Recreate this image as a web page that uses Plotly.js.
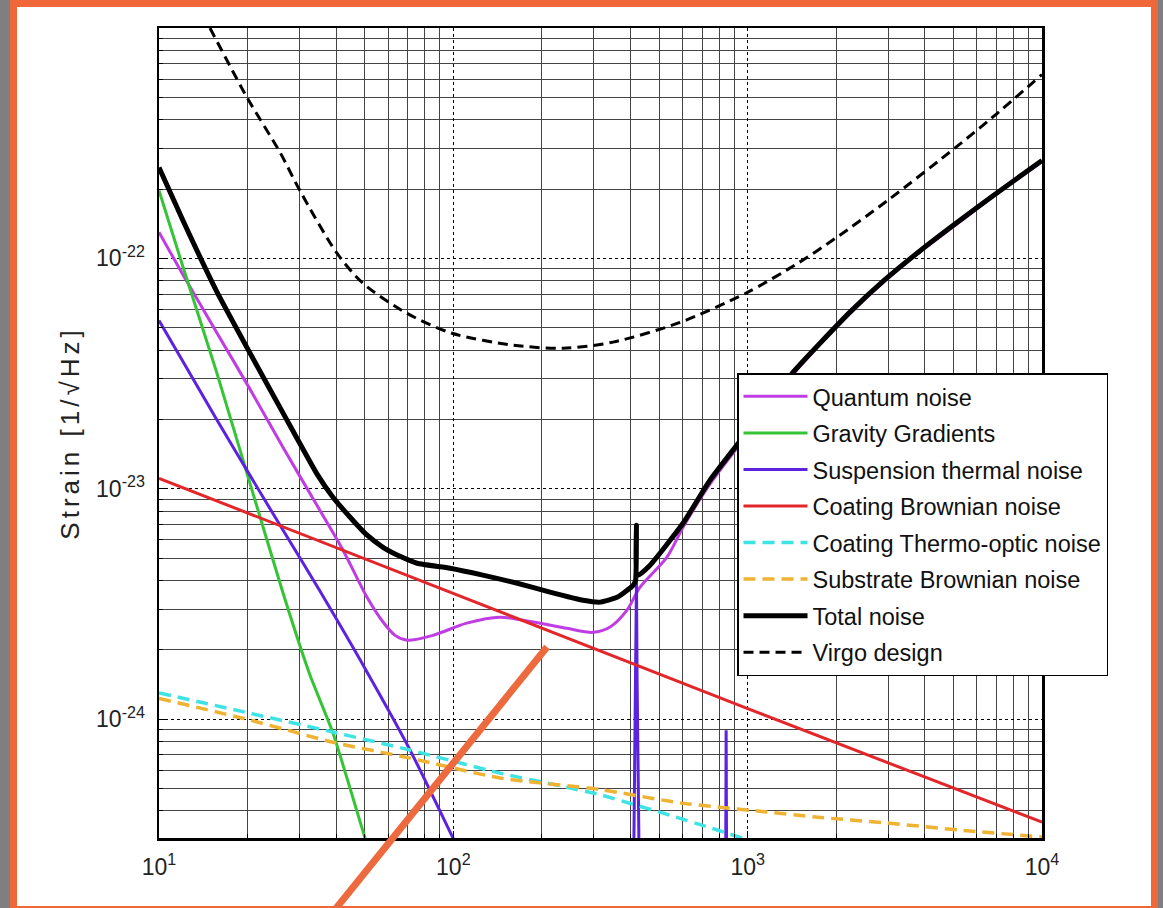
<!DOCTYPE html>
<html>
<head>
<meta charset="utf-8">
<script src="https://cdn.plot.ly/plotly-3.0.1.min.js"></script>
<style>
  html, body { margin:0; padding:0; width:1163px; height:908px; overflow:hidden; background:#7f7f7f; }
  #orange { position:absolute; left:10px; top:0; width:1148px; height:908px; background:#f0673a; }
  #white { position:absolute; left:17px; top:7px; width:1134px; height:899px; background:#ffffff; }
  #chart { position:absolute; left:0; top:0; width:1163px; height:908px; }
  .ytitle { letter-spacing:4px; }
</style>
</head>
<body>
<div id="orange"></div>
<div id="white"></div>
<div id="chart"></div>
<script>
// ---- data (frequency in Hz, strain in 1/sqrt(Hz)) ----
const quantumF = [10, 12.06, 15.7, 20.4, 26.4, 34.4, 42.2, 50.9, 57.7, 63.4, 69.6, 85.3, 111, 144, 187, 243, 298, 341, 389, 431, 532, 603, 745, 1019, 1416, 2213, 2900, 3856, 5100, 6764, 10000];
const quantumH = [1.30e-22, 8.5e-23, 4.77e-23, 2.70e-23, 1.51e-23, 8.47e-24, 5.41e-24, 3.38e-24, 2.64e-24, 2.31e-24, 2.20e-24, 2.31e-24, 2.61e-24, 2.77e-24, 2.64e-24, 2.48e-24, 2.38e-24, 2.51e-24, 2.97e-24, 3.74e-24, 5.05e-24, 6.8e-24, 1.05e-23, 1.78e-23, 3.1e-23, 5.72e-23, 7.9e-23, 1.07e-22, 1.40e-22, 1.84e-22, 2.63e-22];

const gravityF = [10, 12.06, 15.7, 20.4, 26.4, 32.6, 39.0, 50.1, 56.4];
const gravityH = [1.97e-22, 9.2e-23, 3.2e-23, 1.05e-23, 3.52e-24, 1.55e-24, 8.7e-25, 3.05e-25, 1.87e-25];

// suspension thermal noise: broadband part and the violin-mode peaks
const suspF = [10, 12.06, 15.7, 20.4, 26.4, 34.4, 50.1, 71.3, 99.7, 123];
const suspH = [5.38e-23, 3.57e-23, 2.0e-23, 1.14e-23, 6.6e-24, 3.78e-24, 1.66e-24, 7.34e-25, 3.05e-25, 1.76e-25];
const suspPeakF = [400, 410, 414, 417, 419, 421, 424, 428, 440, 835, 842, 845, 848, 855];
const suspPeakH = [1e-26, 2.5e-25, 6e-25, 1.5e-24, 4.0e-24, 1.5e-24, 6e-25, 2.5e-25, 1e-26, 1e-26, 2e-25, 8.95e-25, 2e-25, 1e-26];

const coatBrownF = [10, 100, 1000, 10000];
const coatBrownH = [1.11e-23, 3.52e-24, 1.11e-24, 3.57e-25];

const thermoOptF = [10, 20.4, 39.0, 71.3, 144, 220, 315, 418, 554, 733, 851, 1028, 1300];
const thermoOptH = [1.30e-24, 1.06e-24, 8.79e-25, 7.34e-25, 5.83e-25, 5.2e-25, 4.7e-25, 4.23e-25, 3.8e-25, 3.4e-25, 3.2e-25, 2.95e-25, 2.6e-25];

const substrateF = [10, 20.4, 39.0, 71.3, 144, 315, 589, 1102, 1695, 2978, 5230, 10000];
const substrateH = [1.23e-24, 9.9e-25, 7.94e-25, 6.77e-25, 5.55e-25, 4.95e-25, 4.33e-25, 3.98e-25, 3.76e-25, 3.54e-25, 3.30e-25, 3.08e-25];

const totalF = [10, 12.06, 15.7, 20.4, 26.4, 34.4, 39.0, 44.6, 50.5, 57.7, 65.9, 75.3, 97.5, 126, 165, 213, 276, 315, 360, 408, 416, 419, 422, 466, 603, 745, 1019, 1416, 2213, 2900, 3856, 5100, 6764, 10000];
const totalH = [2.48e-22, 1.46e-22, 7.19e-23, 3.87e-23, 2.13e-23, 1.16e-23, 9.18e-24, 7.52e-24, 6.35e-24, 5.57e-24, 5.09e-24, 4.75e-24, 4.52e-24, 4.22e-24, 3.89e-24, 3.56e-24, 3.28e-24, 3.22e-24, 3.38e-24, 3.81e-24, 4.0e-24, 6.95e-24, 4.2e-24, 4.66e-24, 7.08e-24, 1.09e-23, 1.83e-23, 3.17e-23, 5.8e-23, 8.0e-23, 1.08e-22, 1.42e-22, 1.857e-22, 2.66e-22];

const virgoF = [14.9, 19.9, 25.8, 30.1, 40.3, 49.3, 69.6, 99, 160, 236, 349, 589, 995, 1495, 1983, 3000, 5105, 6764, 10000];
const virgoH = [1.0e-21, 5.0e-22, 2.88e-22, 1.97e-22, 1.05e-22, 7.8e-23, 5.77e-23, 4.73e-23, 4.2e-23, 4.07e-23, 4.33e-23, 5.27e-23, 7.1e-23, 9.6e-23, 1.22e-22, 1.79e-22, 3.04e-22, 4.08e-22, 6.28e-22];

const seriesNames = ['Quantum noise', 'Gravity Gradients', 'Suspension thermal noise', 'Coating Brownian noise', 'Coating Thermo-optic noise', 'Substrate Brownian noise', 'Total noise', 'Virgo design'];

const xTickVals = [10, 100, 1000, 10000];
const xTickText = ['10<sup>1</sup>', '10<sup>2</sup>', '10<sup>3</sup>', '10<sup>4</sup>'];
const yTickVals = [1e-24, 1e-23, 1e-22];
const yTickText = ['10<sup>-24</sup>', '10<sup>-23</sup>', '10<sup>-22</sup>'];
const yTitle = 'Strain [1/\u221AHz]';

// ---- styling ----
function minorVals(e0, e1) {
  const v = [];
  for (let e = e0; e <= e1; e++) for (let k = 2; k <= 9; k++) v.push(k * Math.pow(10, e));
  return v;
}
const font = 'Liberation Sans, Arial, Helvetica, sans-serif';

function tr(x, y, name, color, width, dash, shape, smooth, i, showleg) {
  return {
    x: x, y: y, name: name, type: 'scatter', mode: 'lines',
    legendgroup: 'g' + i, showlegend: showleg !== false,
    line: { color: color, width: width, dash: dash || 'solid', shape: shape || 'linear', smoothing: smooth },
    hoverinfo: 'skip'
  };
}

const violet = '#5b22e0';
const data = [
  tr(quantumF, quantumH, seriesNames[0], '#bf3de3', 3, 'solid', 'spline', 0.8, 0),
  tr(gravityF, gravityH, seriesNames[1], '#35c435', 3, 'solid', 'spline', 0.5, 1),
  tr(suspF, suspH, seriesNames[2], violet, 3, 'solid', 'spline', 0.7, 2),
  tr(suspPeakF, suspPeakH, seriesNames[2], violet, 3, 'solid', 'linear', 1, 2, false),
  tr(coatBrownF, coatBrownH, seriesNames[3], '#e3262a', 3, 'solid', 'linear', 1, 3),
  tr(thermoOptF, thermoOptH, seriesNames[4], '#3ee3e3', 3.5, '12px,7px', 'spline', 0.6, 4),
  tr(substrateF, substrateH, seriesNames[5], '#f0b232', 3.5, '12px,7px', 'spline', 0.6, 5),
  tr(totalF, totalH, seriesNames[6], '#000000', 5, 'solid', 'spline', 0.5, 6),
  tr(virgoF, virgoH, seriesNames[7], '#000000', 3, '10px,6px', 'spline', 0.8, 7)
];

const minorStyle = { showgrid: true, gridcolor: '#444444', gridwidth: 1, griddash: 'solid', ticks: 'inside', ticklen: 4, tickcolor: '#000' };

const axisCommon = {
  type: 'log',
  showline: true, linecolor: '#000', linewidth: 2.5, mirror: true,
  ticks: 'inside', ticklen: 7, tickcolor: '#000', tickwidth: 1,
  showgrid: true, gridcolor: '#000', gridwidth: 1, griddash: 'dot',
  zeroline: false,
  tickfont: { family: font, size: 23, color: '#222' }
};

const layout = {
  width: 1163, height: 908,
  margin: { l: 159, r: 121, t: 28, b: 70, autoexpand: false },
  paper_bgcolor: 'rgba(0,0,0,0)',
  plot_bgcolor: '#ffffff',
  showlegend: true,
  xaxis: Object.assign({}, axisCommon, {
    range: [1, 4],
    tickmode: 'array', tickvals: xTickVals, ticktext: xTickText,
    ticklabelstandoff: 7,
    minor: Object.assign({ tickmode: 'array', tickvals: minorVals(1, 3) }, minorStyle)
  }),
  yaxis: Object.assign({}, axisCommon, {
    range: [-24.516, -21.0],
    tickmode: 'array', tickvals: yTickVals, ticktext: yTickText,
    ticklabelstandoff: 7,
    title: { text: yTitle, font: { family: font, size: 26, color: '#222' }, standoff: 9 },
    minor: Object.assign({ tickmode: 'array', tickvals: minorVals(-25, -22) }, minorStyle)
  }),
  legend: {
    x: 0.6546, y: 0.574, xanchor: 'left', yanchor: 'top',
    bgcolor: '#ffffff', bordercolor: '#000', borderwidth: 1.5,
    font: { family: font, size: 23.5, color: '#111' },
    traceorder: 'grouped', tracegroupgap: 3,
    itemwidth: 64
  },
  shapes: [{
    type: 'line', xref: 'paper', yref: 'paper',
    x0: 0.4394, y0: 0.2358, x1: 0.1971, y1: -0.0914,
    line: { color: '#ec6a3e', width: 7 }, layer: 'above'
  }]
};

Plotly.newPlot('chart', data, layout, { staticPlot: true, displayModeBar: false });
</script>
</body>
</html>
